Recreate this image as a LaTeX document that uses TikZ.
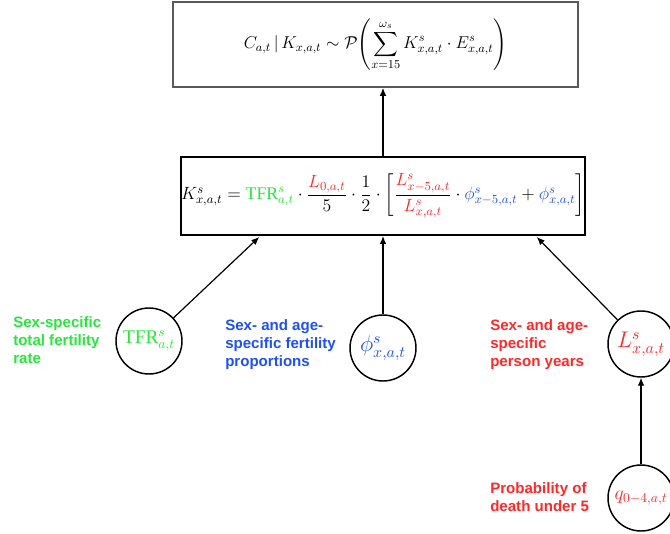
\RequirePackage{fix-cm}
\documentclass[tikz,border=0pt]{standalone}
\usepackage{amsmath,amssymb}
\usepackage{fontspec}
\setmainfont{Liberation Serif}
\newfontfamily\lblfont{Liberation Sans}
\usetikzlibrary{arrows.meta,calc,positioning}
\definecolor{tgreen}{RGB}{40,230,60}
\definecolor{tred}{RGB}{255,40,40}
\definecolor{tblue}{RGB}{30,80,245}
\definecolor{tgrey}{RGB}{90,90,90}
\tikzset{
  topbox/.style={draw=tgrey,line width=1.3pt,minimum width=303.75pt,minimum height=63.75pt,font=\fontsize{12.9}{15}\selectfont},
  midbox/.style={draw=black,line width=1.5pt,minimum width=301.5pt,minimum height=58.5pt,inner sep=0pt,font=\fontsize{13.3}{15}\selectfont},
  var/.style={circle,draw=black,line width=1.1pt,minimum size=49.5pt,inner sep=0pt,font=\fontsize{14.5}{16}\selectfont},
  lbl/.style={anchor=west,align=left,inner sep=0pt,font=\lblfont\bfseries\fontsize{11.3}{13.5}\selectfont},
  feed/.style={line width=0.9pt,-{Latex[length=6pt,width=5pt]}},
}

\begin{document}
\begin{tikzpicture}[x=0.75pt,y=-0.75pt]
    \useasboundingbox (0,0) rectangle (670,534);
    % --- likelihood and expected births ---
    \node[topbox] (lik) at (375.5,44.5) {$C_{a,t}\,|\,K_{x,a,t}\sim\mathcal{P}\!\left(\displaystyle\sum_{x=15}^{\omega_s}K^s_{x,a,t}\cdot E^s_{x,a,t}\right)$};
    \node[midbox] (kbox) at (383,196) {$K^s_{x,a,t}=\textcolor{tgreen}{\mathrm{TFR}^s_{a,t}}\cdot\dfrac{\textcolor{tred}{L_{0,a,t}}}{5}\cdot\dfrac{1}{2}\cdot\left[\dfrac{\textcolor{tred}{L^s_{x-5,a,t}}}{\textcolor{tred}{L^s_{x,a,t}}}\cdot\textcolor{tblue}{\phi^s_{x-5,a,t}}+\textcolor{tblue}{\phi^s_{x,a,t}}\right]$};
    % --- inputs ---
    \node[var,text=tgreen] (tfr) at (149,341) {$\mathrm{TFR}^s_{a,t}$};
    \node[var,text=tblue,font=\fontsize{17}{18}\selectfont] (phi) at (383,348) {$\phi^s_{x,a,t}$};
    \node[var,text=tred,font=\fontsize{17}{18}\selectfont] (ly) at (641,344) {$L^s_{x,a,t}$};
    \node[var,text=tred] (q) at (641,498) {$q_{0-4,a,t}$};
    \node[lbl,text=tgreen] (tfrlbl) at (13,340) {Sex-specific\\total fertility\\rate};
    \node[lbl,text=tblue] (philbl) at (225,345) {Sex- and age-\\specific fertility\\proportions};
    \node[lbl,text=tred] (lylbl) at (490,345) {Sex- and age-\\specific\\person years};
    \node[lbl,text=tred] (qlbl) at (490,497) {Probability of\\death under 5};
    % --- arrows ---
    \draw[feed] (kbox.north) -- (kbox.north |- lik.south);
    \draw[feed] (tfr) -- ($(kbox.south west)+(79,1)$);
    \draw[feed] (phi) -- (kbox.south);
    \draw[feed] (ly) -- ($(kbox.south east)+(-49,1)$);
    \draw[feed] (q) -- (ly);
\end{tikzpicture}
\end{document}
